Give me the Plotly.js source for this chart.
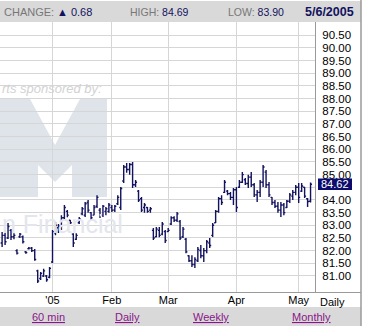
<!DOCTYPE html>
<html>
<head>
<meta charset="utf-8">
<script src="https://cdn.plot.ly/plotly-3.0.1.min.js"></script>
<style>
html,body{margin:0;padding:0;background:#fff;}
#chart{width:366px;height:333px;}
</style>
</head>
<body>
<div id="chart"></div>
<script>
// ---------- data ----------
var holidays = ['2004-12-24','2005-01-17','2005-02-21'];
var firstDay = '2004-12-08';
var lastDay = '2005-05-06';

var openP = [82.30,82.60,82.50,82.80,82.55,82.00,82.55,82.55,81.95,82.08,
  82.10,82.00,81.20,80.90,81.00,81.00,80.95,81.55,82.70,82.90,
  82.90,83.30,83.55,83.20,82.65,82.45,83.10,83.45,83.40,83.90,
  83.50,83.40,83.75,83.60,83.40,83.55,83.55,83.70,83.60,83.85,
  83.70,84.75,85.30,85.20,85.40,84.60,84.35,84.05,83.70,83.70,
  83.60,82.80,82.55,82.80,82.65,82.75,82.75,83.05,83.30,83.20,
  83.15,82.55,82.45,81.80,81.60,81.45,81.60,82.00,81.80,82.00,
  82.30,82.60,83.10,83.55,84.05,84.30,84.35,84.25,84.10,84.40,
  84.50,84.70,84.80,84.65,84.90,84.60,84.20,84.30,84.70,85.10,
  84.60,84.10,83.90,83.75,83.60,83.80,83.70,83.95,84.15,84.30,
  84.50,84.35,84.50,84.05,83.95];
var highP = [82.73,82.81,83.09,82.85,82.69,82.05,82.70,82.60,81.98,82.14,
  82.14,82.06,81.24,81.16,81.28,81.04,81.35,82.81,83.13,83.05,
  83.40,83.80,83.60,83.21,82.69,82.69,83.33,83.72,83.92,84.00,
  83.52,83.80,84.19,83.68,83.80,83.72,83.88,83.80,83.80,84.19,
  84.51,85.38,85.46,85.46,85.50,84.79,84.39,84.12,83.88,83.72,
  83.72,82.89,82.93,82.93,83.13,82.81,82.89,83.36,83.36,83.52,
  83.21,82.93,82.50,81.82,81.82,81.74,82.14,82.22,82.10,82.42,
  82.50,83.09,83.60,84.12,84.19,84.79,84.39,84.31,84.47,84.51,
  84.79,85.10,84.87,84.99,85.10,84.67,84.39,84.79,85.38,85.18,
  84.71,84.12,84.00,83.92,83.92,83.88,84.00,84.27,84.39,84.59,
  84.67,84.67,84.51,84.08,84.69];
var lowP = [82.14,82.22,82.46,82.42,82.45,81.85,82.50,82.28,81.88,82.04,
  81.95,81.60,80.72,80.84,80.96,80.77,80.91,81.51,82.61,82.70,
  82.81,83.21,83.32,83.05,82.14,82.42,83.05,83.40,83.33,83.49,
  83.21,83.40,83.68,83.29,83.33,83.40,83.49,83.52,83.52,83.80,
  83.60,84.67,85.07,84.99,84.47,84.51,83.92,83.52,83.49,83.49,
  83.49,82.42,82.53,82.53,82.61,82.30,82.73,83.01,83.13,83.13,
  82.42,82.50,81.90,81.55,81.35,81.31,81.55,81.70,81.55,81.90,
  82.10,82.54,83.09,83.49,83.80,84.27,84.19,84.00,83.80,83.52,
  84.47,84.67,84.59,84.47,84.51,84.12,83.92,84.12,84.51,84.47,
  84.12,83.80,83.68,83.49,83.33,83.40,83.68,83.88,84.00,84.19,
  83.88,84.31,84.08,83.72,83.90];
var closeP = [82.60,82.35,82.95,82.55,82.60,81.90,82.65,82.35,81.92,82.10,
  82.00,81.65,80.80,81.10,81.20,80.85,81.30,82.75,83.00,82.95,
  83.30,83.70,83.40,83.10,82.30,82.60,83.25,83.65,83.85,83.60,
  83.30,83.70,84.10,83.40,83.75,83.65,83.80,83.60,83.75,84.10,
  84.45,85.30,85.20,85.40,84.60,84.70,84.00,83.60,83.80,83.55,
  83.65,82.50,82.85,82.60,83.05,82.40,82.80,83.30,83.20,83.45,
  82.50,82.85,81.95,81.60,81.45,81.65,82.05,81.80,82.00,82.35,
  82.20,83.00,83.55,84.05,83.90,84.70,84.25,84.10,84.40,83.70,
  84.70,85.00,84.65,84.90,84.60,84.20,84.30,84.70,85.30,84.60,
  84.20,83.90,83.75,83.60,83.80,83.50,83.95,84.20,84.30,84.50,
  84.10,84.55,84.15,83.94,84.62];

var xTickDates = ['2005-01-03','2005-02-01','2005-03-01','2005-04-01','2005-05-02'];
var xTickLabels = ["'05",'Feb','Mar','Apr','May'];
var yTickVals = [81,81.5,82,82.5,83,83.5,84,84.5,85,85.5,86,86.5,87,87.5,88,88.5,89,89.5,90,90.5];
var yTickLabels = ['81.00','81.50','82.00','82.50','83.00','83.50','84.00','','85.00','85.50',
  '86.00','86.50','87.00','87.50','88.00','88.50','89.00','89.50','90.00','90.50'];
var lastClose = 84.62;
var headerChange = '0.68', headerHigh = '84.69', headerLow = '83.90', headerDate = '5/6/2005';
var linkLabels = ['60 min','Daily','Weekly','Monthly'];

// trading calendar (weekdays minus listed holidays)
function tradingDays(a, b, hol) {
  var out = [], d = new Date(a + 'T00:00:00Z'), e = new Date(b + 'T00:00:00Z');
  while (d <= e) {
    var s = d.toISOString().slice(0,10), w = d.getUTCDay();
    if (w !== 0 && w !== 6 && hol.indexOf(s) < 0) out.push(s);
    d.setUTCDate(d.getUTCDate() + 1);
  }
  return out;
}
var dates = tradingDays(firstDay, lastDay, holidays);

// ---------- layout helpers (pixel -> paper) ----------
var PL = 0, PR = 315, PT = 22, PB = 292;
function X(px){ return (px - PL) / (PR - PL); }
function Y(py){ return (PB - py) / (PB - PT); }

var navy = '#12125e';
var grey = '#9a9a9a';
var font = 'Arial, "Liberation Sans", sans-serif';

var shapes = [
  // watermark logo (light block M)
  {type:'path', layer:'below', xref:'paper', yref:'paper',
   path: 'M '+X(0)+','+Y(99)+' L '+X(30)+','+Y(99)+' L '+X(55)+','+Y(145)+' L '+X(80)+','+Y(99)+
         ' L '+X(107)+','+Y(99)+' L '+X(107)+','+Y(197)+' L '+X(72)+','+Y(197)+' L '+X(72)+','+Y(165)+
         ' L '+X(55)+','+Y(182)+' L '+X(38)+','+Y(165)+' L '+X(38)+','+Y(197)+' L '+X(0)+','+Y(197)+' Z',
   fillcolor:'#dfe3ea', line:{width:0}},
  // header bar
  {type:'rect', xref:'paper', yref:'paper', x0:X(0), x1:X(361), y0:Y(22), y1:Y(1),
   fillcolor:'#d9d9d9', line:{width:0}},
  // bottom axis line
  {type:'line', xref:'paper', yref:'paper', x0:X(0), x1:X(361), y0:Y(292.5), y1:Y(292.5),
   line:{color:grey, width:1}},
  // bottom link bar
  {type:'rect', xref:'paper', yref:'paper', x0:X(0), x1:X(361), y0:Y(326), y1:Y(307),
   fillcolor:'#d9d9d9', line:{width:0}},
  // right border
  {type:'line', xref:'paper', yref:'paper', x0:X(361), x1:X(361), y0:Y(326), y1:Y(0),
   line:{color:grey, width:1.5}},
  // last-close marker box on the price scale
  {type:'rect', xref:'paper', yref:'y', x0:X(318), x1:X(352), y0:lastClose - 0.23, y1:lastClose + 0.23,
   fillcolor:'#0c0c6e', line:{width:0}}
];

function ann(px, py, text, opts) {
  var a = {xref:'paper', yref:'paper', x:X(px), y:Y(py), text:text, showarrow:false,
    xanchor:'left', yanchor:'middle', font:{family:font, size:11, color:'#000'}};
  for (var k in opts) a[k] = opts[k];
  return a;
}
function u(t){ return '<span style="text-decoration:underline">' + t + '</span>'; }
var linkFont = {family:font, size:11, color:'#8a168a'};

var annotations = [
  ann(0, 88, '<i>rts sponsored by:</i>', {font:{family:font, size:13, color:'#d2d2d2'}}),
  ann(0, 224, 'n Financial', {font:{family:font, size:25, color:'#e3e6ec'}}),
  ann(2, 12, '<span style="color:#777">CHANGE:</span>', {font:{family:font, size:11, color:'#777'}}),
  ann(55, 12, '&#9650; ' + headerChange, {font:{family:font, size:11, color:navy}}),
  ann(128, 12, '<span style="color:#777">HIGH:</span> ' + headerHigh, {font:{family:font, size:10.5, color:navy}}),
  ann(226, 12, '<span style="color:#777">LOW:</span> ' + headerLow, {font:{family:font, size:10.5, color:navy}}),
  ann(356, 12, '<b>' + headerDate + '</b>', {xanchor:'right', font:{family:font, size:12.5, color:navy}}),
  ann(332, 302, 'Daily', {xanchor:'center'}),
  ann(48, 317, u(linkLabels[0]), {xanchor:'center', font:linkFont}),
  ann(127, 317, u(linkLabels[1]), {xanchor:'center', font:linkFont}),
  ann(211, 317, u(linkLabels[2]), {xanchor:'center', font:linkFont}),
  ann(311, 317, u(linkLabels[3]), {xanchor:'center', font:linkFont}),
  {xref:'paper', yref:'y', x:X(320), y:lastClose, text:lastClose.toFixed(2), showarrow:false,
   xanchor:'left', yanchor:'middle', borderpad:0,
   font:{family:font, size:11, color:'#fff'}}
];

var trace = {
  type:'ohlc', x:dates, open:openP, high:highP, low:lowP, close:closeP,
  increasing:{line:{color:navy, width:1.4}},
  decreasing:{line:{color:navy, width:1.4}},
  tickwidth:0.5, hoverinfo:'skip'
};

var layout = {
  width:366, height:333,
  margin:{l:PL, r:366-PR, t:PT, b:333-PB, pad:0},
  paper_bgcolor:'#fff', plot_bgcolor:'#fff',
  showlegend:false,
  font:{family:font, size:11, color:'#000'},
  xaxis:{type:'category', range:[-0.71, 105.5], rangeslider:{visible:false},
    tickmode:'array', tickvals:xTickDates, ticktext:xTickLabels,
    showgrid:true, gridcolor:'#d6d6d6', gridwidth:1, ticks:'', showline:false, zeroline:false,
    tickfont:{family:font, size:11, color:'#000'}, fixedrange:true},
  yaxis:{side:'right', range:[80.366, 91.025], tickmode:'array', tickvals:yTickVals, ticktext:yTickLabels,
    showgrid:true, gridcolor:'#d6d6d6', gridwidth:1, ticks:'', showline:true, linecolor:grey, linewidth:1,
    zeroline:false, ticklabelstandoff:4, tickfont:{family:font, size:11.5, color:'#000'}, fixedrange:true},
  shapes:shapes, annotations:annotations
};

Plotly.newPlot('chart', [trace], layout, {staticPlot:true, displayModeBar:false});
</script>
</body>
</html>
